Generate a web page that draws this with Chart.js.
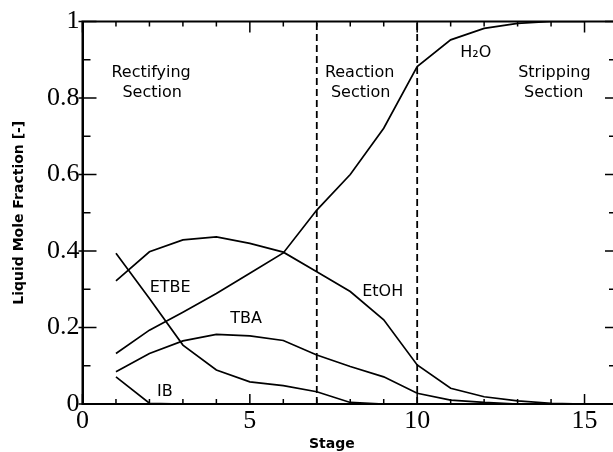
<!DOCTYPE html>
<html lang="en">
<head>
  <meta charset="UTF-8" />
  <title>Liquid Mole Fraction Profile</title>
  <script src="https://cdn.jsdelivr.net/npm/chart.js"></script>
  <style>
    html, body { margin: 0; padding: 0; overflow: hidden; background: #fff; }
    #profileChart { display: block; }
  </style>
</head>
<body>
  <canvas id="profileChart" width="625" height="452"></canvas>

  <script>
    // stage-by-stage liquid composition
    const stages = [1, 2, 3, 4, 5, 6, 7, 8, 9, 10, 11, 12, 13, 14, 15];
    const h2o  = [0.132, 0.193, 0.240, 0.289, 0.342, 0.395, 0.507, 0.600, 0.721, 0.882, 0.952, 0.982, 0.995, 1.0, 1.0];
    const etoh = [0.322, 0.398, 0.429, 0.437, 0.420, 0.397, 0.346, 0.294, 0.220, 0.102, 0.041, 0.019, 0.008, 0.002, 0.0];
    const etbe = [0.394, 0.276, 0.154, 0.089, 0.058, 0.048, 0.032, 0.004, 0.0, 0.0, 0.0, 0.0, 0.0, 0.0, 0.0];
    const tba  = [0.084, 0.132, 0.165, 0.182, 0.178, 0.166, 0.128, 0.098, 0.071, 0.028, 0.010, 0.004, 0.0, 0.0, 0.0];
    const ib   = [0.071, 0.002, 0.0, 0.0, 0.0, 0.0, 0.0, 0.0, 0.0, 0.0, 0.0, 0.0, 0.0, 0.0, 0.0];

    // section boundaries (dashed lines)
    const sectionBounds = [7, 10];

    const xTicks = [0, 5, 10, 15];
    const yTicks = [0, 0.2, 0.4, 0.6, 0.8, 1];

    // text placed on the plot, in data coordinates
    const labels = [
      { text: "Rectifying", x: 2.05, y: 0.866 },
      { text: "Section",    x: 2.08, y: 0.814 },
      { text: "Reaction",   x: 8.28, y: 0.866 },
      { text: "Section",    x: 8.31, y: 0.814 },
      { text: "Stripping",  x: 14.1, y: 0.866 },
      { text: "Section",    x: 14.08, y: 0.814 },
      { text: "H\u2082O",   x: 11.75, y: 0.917 },
      { text: "ETBE",       x: 2.62, y: 0.303 },
      { text: "TBA",        x: 4.89, y: 0.222 },
      { text: "EtOH",       x: 8.97, y: 0.293 },
      { text: "IB",         x: 2.46, y: 0.031 },
    ];
    const xTitle = { text: "Stage", x: 7.45 };

    function toPoints(values) {
      return stages.map((s, i) => ({ x: s, y: values[i] }));
    }

    const curve = (values) => ({
      data: toPoints(values),
      borderColor: "#000",
      borderWidth: 1.7,
      pointRadius: 0,
      tension: 0,
      fill: false,
    });

    const datasets = [curve(h2o), curve(etoh), curve(etbe), curve(tba), curve(ib)];
    sectionBounds.forEach(b => {
      datasets.push({
        data: [{ x: b, y: 0 }, { x: b, y: 1 }],
        borderColor: "#000",
        borderWidth: 1.8,
        borderDash: [7, 4],
        pointRadius: 0,
        fill: false,
      });
    });

    // frame, inward ticks and text
    const decorPlugin = {
      id: "decor",
      afterDatasetsDraw(chart) {
        const { ctx, chartArea: a, scales: { x, y } } = chart;
        ctx.save();
        ctx.strokeStyle = "#000";
        ctx.lineWidth = 2;
        ctx.strokeRect(a.left, a.top, a.right - a.left, a.bottom - a.top);

        ctx.lineWidth = 1.5;
        ctx.beginPath();
        for (let i = 0; i <= 16; i++) {
          const px = x.getPixelForValue(i);
          const major = i % 5 === 0;
          ctx.moveTo(px, a.bottom);
          ctx.lineTo(px, a.bottom - (major ? 10 : 5));
          ctx.moveTo(px, a.top);
          ctx.lineTo(px, a.top + (major ? 11 : 5));
        }
        for (let i = 0; i <= 10; i++) {
          const py = y.getPixelForValue(i / 10);
          const major = i % 2 === 0;
          ctx.moveTo(a.left - (major ? 4 : 0), py);
          ctx.lineTo(a.left + (major ? 14 : 8), py);
          ctx.moveTo(a.right, py);
          ctx.lineTo(a.right - (major ? 13 : 9), py);
        }
        ctx.stroke();

        ctx.fillStyle = "#000";
        ctx.font = "16px 'DejaVu Sans'";
        ctx.textAlign = "center";
        ctx.textBaseline = "middle";
        labels.forEach(l => {
          ctx.fillText(l.text, x.getPixelForValue(l.x), y.getPixelForValue(l.y));
        });

        ctx.font = "bold 14px 'DejaVu Sans'";
        ctx.fillText(xTitle.text, x.getPixelForValue(xTitle.x), 444);
        ctx.restore();
      }
    };

    const tickFont = { family: "'Liberation Serif', serif", size: 26 };

    new Chart(document.getElementById("profileChart").getContext("2d"), {
      type: "line",
      data: { datasets },
      options: {
        responsive: false,
        animation: false,
        layout: { padding: { left: 0, top: 21.5, right: 7, bottom: 0 } },
        plugins: { legend: { display: false }, tooltip: { enabled: false } },
        scales: {
          x: {
            type: "linear",
            min: 0,
            max: 16,
            grid: { display: false, drawTicks: false },
            border: { display: true, color: "#000", width: 2 },
            afterBuildTicks: s => { s.ticks = xTicks.map(v => ({ value: v })); },
            afterFit: s => { s.height = 48; },
            ticks: { color: "#000", font: tickFont, padding: 2, maxRotation: 0 },
          },
          y: {
            min: 0,
            max: 1,
            grid: { display: false, drawTicks: false },
            border: { display: true, color: "#000", width: 2 },
            afterBuildTicks: s => { s.ticks = yTicks.map(v => ({ value: v })); },
            afterFit: s => { s.width = 82.5; },
            ticks: {
              color: "#000",
              font: tickFont,
              padding: 3,
              callback: v => (v === 0 || v === 1) ? String(v) : v.toFixed(1),
            },
            title: {
              display: true,
              text: "Liquid Mole Fraction [-]",
              color: "#000",
              font: { family: "'DejaVu Sans'", size: 14, weight: "bold" },
              padding: { top: 11, bottom: 0 },
            },
          },
        },
      },
      plugins: [decorPlugin],
    });
  </script>
</body>
</html>
